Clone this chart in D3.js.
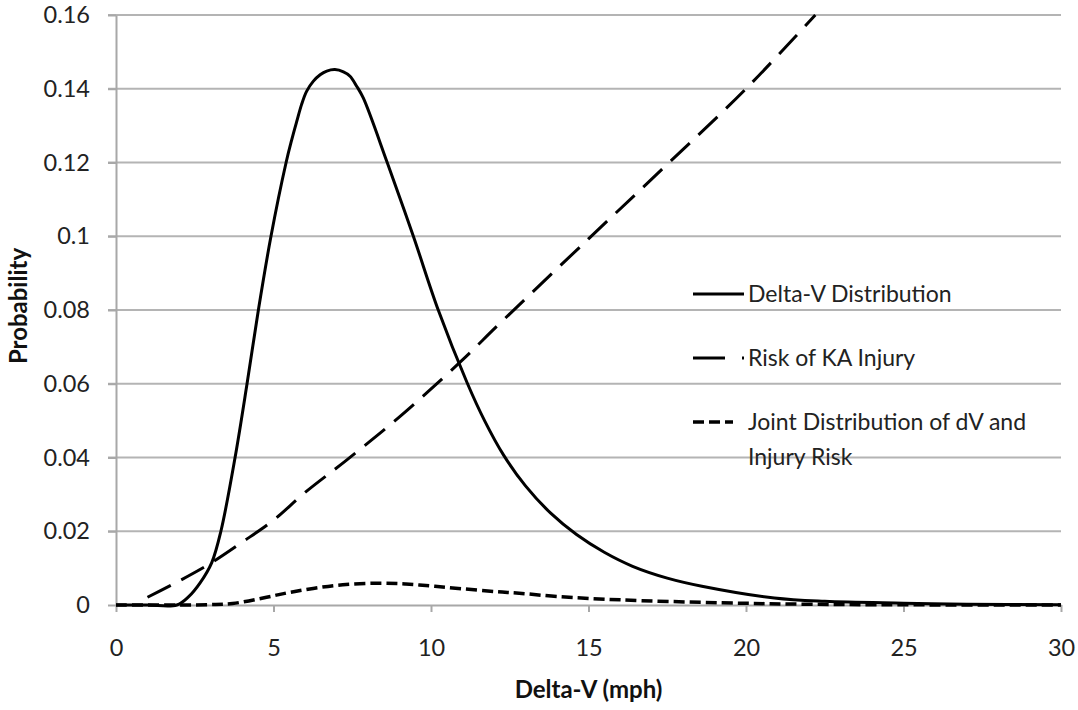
<!DOCTYPE html>
<html>
<head>
<meta charset="utf-8">
<script src="https://cdn.jsdelivr.net/npm/d3@7"></script>
<style>
  body { margin: 0; background: #fff; }
  svg { display: block; font-family: Lato, "Open Sans", sans-serif; }
</style>
</head>
<body>
<div class="chart"></div>
<script>
// values: [delta-V (mph), probability]
var deltaV = [
  [0, 0], [1, 0], [1.93, 0], [2.3, 0.0022], [2.67, 0.006], [3.04, 0.0115],
  [3.33, 0.02], [3.78, 0.04], [4.16, 0.06], [4.52, 0.08], [4.92, 0.10],
  [5.4, 0.12], [5.58, 0.1262], [5.74, 0.1312], [5.89, 0.1357], [6.05, 0.1393],
  [6.26, 0.142], [6.48, 0.1438], [6.69, 0.1448], [6.95, 0.1452], [7.22, 0.1446],
  [7.43, 0.1434], [7.64, 0.1407], [7.85, 0.1375], [8.61, 0.12], [9.44, 0.10],
  [10.23, 0.08], [11.15, 0.0602], [11.7, 0.05], [12.3, 0.0407], [13.0, 0.0323],
  [13.8, 0.0249], [14.62, 0.0191], [15.5, 0.0143], [16.4, 0.0105], [17.5, 0.0073],
  [18.6, 0.0051], [20.9, 0.0019], [22.5, 0.001], [25, 0.0005], [27, 0.0002], [30, 0.0001]
];
var riskKA = [
  [1, 0.0021], [2, 0.0065], [3, 0.0113], [4, 0.017], [5, 0.023], [6, 0.0305],
  [7.32, 0.0393], [9, 0.051], [10.94, 0.066], [12.19, 0.0764], [15, 0.0993],
  [17.5, 0.1195], [20, 0.14], [22.2, 0.16]
];
var joint = [
  [0, 0], [2, 0], [3, 0.0001], [3.7, 0.0004], [4.78, 0.0021], [5.5, 0.0034],
  [6.26, 0.0045], [7.2, 0.0055], [8.27, 0.0059], [9.2, 0.0057], [10.07, 0.0051],
  [11, 0.0044], [12.08, 0.0036], [12.8, 0.0032], [14, 0.0023], [16, 0.0014],
  [19.2, 0.0006], [22, 0.0002], [25, 0.00005], [30, 0]
];
var xTicks = [0, 5, 10, 15, 20, 25, 30];
var yTicks = [0, 0.02, 0.04, 0.06, 0.08, 0.1, 0.12, 0.14, 0.16];
var legendNames = ["Delta-V Distribution", "Risk of KA Injury", "Joint Distribution of dV and|Injury Risk"];

var width = 1078,
  height = 710,
  margin = {top: 15, right: 17, bottom: 105, left: 116};

var svg = d3.select(".chart").append("svg")
  .attr("width", width)
  .attr("height", height);

var x = d3.scaleLinear().domain([0, 30]).range([margin.left, width - margin.right]);
var y = d3.scaleLinear().domain([0, 0.16]).range([height - margin.bottom, margin.top]);

// gridlines (extend left past the axis as tick marks)
svg.append("g")
  .selectAll("line")
  .data(yTicks.slice(1))
  .enter().append("line")
  .attr("x1", x(0) - 8)
  .attr("x2", x(30))
  .attr("y1", function(d) { return y(d); })
  .attr("y2", function(d) { return y(d); })
  .style("stroke", "#b4b4b4")
  .style("stroke-width", 2);

var yAxis = svg.append("g")
  .attr("transform", "translate(" + x(0) + ",0)")
  .call(d3.axisLeft(y).tickValues(yTicks).tickFormat(function(d) { return d; }).tickSize(8).tickSizeOuter(0).tickPadding(18));

var xAxis = svg.append("g")
  .attr("transform", "translate(0," + y(0) + ")")
  .call(d3.axisBottom(x).tickValues(xTicks).tickSize(7).tickSizeOuter(0).tickPadding(27));

svg.selectAll(".domain, .tick line")
  .style("stroke", "#a8a8a8")
  .style("stroke-width", 2);
svg.selectAll(".tick text")
  .attr("font-family", "Lato")
  .attr("font-size", "23.5px")
  .style("fill", "#222");

// axis titles
svg.append("text")
  .text("Delta-V (mph)")
  .attr("x", (x(0) + x(30)) / 2)
  .attr("y", 698)
  .attr("text-anchor", "middle")
  .attr("font-size", "24px")
  .attr("font-weight", "bold")
  .style("fill", "#111");

svg.append("text")
  .text("Probability")
  .attr("transform", "translate(27," + 306 + ") rotate(-90)")
  .attr("text-anchor", "middle")
  .attr("font-size", "24px")
  .attr("font-weight", "bold")
  .style("fill", "#111");

var line = d3.line()
  .x(function(d) { return x(d[0]); })
  .y(function(d) { return y(d[1]); })
  .curve(d3.curveCatmullRom.alpha(0.5));

var styles = [
  {dash: null, width: 3},
  {dash: "26,12", width: 3},
  {dash: "11,5", width: 3.5}
];

var lines = svg.append("g").attr("class", "lines");
[deltaV, riskKA, joint].forEach(function(series, i) {
  lines.append("path")
    .datum(series)
    .attr("d", line)
    .style("fill", "none")
    .style("stroke", "#000")
    .style("stroke-width", styles[i].width)
    .style("stroke-linejoin", "round")
    .style("stroke-dasharray", styles[i].dash);
});

// legend
var legendY = [294, 358, 422];
var legend = svg.append("g").attr("class", "legend");
legendNames.forEach(function(name, i) {
  legend.append("line")
    .attr("x1", 693)
    .attr("x2", i === 2 ? 733 : 744)
    .attr("y1", legendY[i])
    .attr("y2", legendY[i])
    .style("stroke", "#000")
    .style("stroke-width", styles[i].width)
    .style("stroke-dasharray", i === 1 ? "32,17" : styles[i].dash);
  name.split("|").forEach(function(part, j) {
    legend.append("text")
      .text(part)
      .attr("x", 748)
      .attr("y", legendY[i] + 8 + j * 35)
      .attr("font-size", "23px")
      .style("fill", "#222");
  });
});
</script>
</body>
</html>
